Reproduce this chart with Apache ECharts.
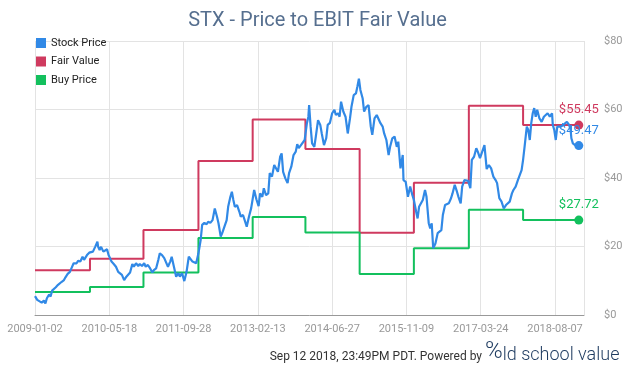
<!DOCTYPE html>
<html>
<head>
<meta charset="utf-8">
<script src="https://cdn.jsdelivr.net/npm/echarts@6/dist/echarts.min.js"></script>
<style>
html,body{margin:0;padding:0;background:#fff;}
#chart{width:635px;height:366px;}
</style>
</head>
<body>
<div id="chart"></div>
<script>
// ---- Data ----
const tickLabels = ['2009-01-02','2010-05-18','2011-09-28','2013-02-13','2014-06-27','2015-11-09','2017-03-24','2018-08-07'];
const yTicks = [0, 20, 40, 60, 80];

// sample index (100 samples per labelled interval) and stock price
const stockIdx = [0,3,5,9,12,14,16,19,21,23,25,28,31,33,36,39,41,44,47,49,52,54,56,58,61,64,66,68,70,73,75,78,81,84,85,87,89,92,94,97,99,
101,103,106,109,112,114,117,120,123,125,128,131,133,136,139,141,144,147,149,152,155,158,160,163,166,168,171,174,176,179,182,184,187,190,193,195,198,
201,204,207,209,212,214,217,220,223,225,228,231,233,236,239,242,243,245,247,250,252,255,258,260,263,265,267,269,272,275,277,280,283,285,288,291,293,295,298,
301,303,306,308,311,314,316,319,322,324,327,330,332,334,337,340,342,345,348,351,353,355,358,360,363,366,368,369,371,373,376,378,381,384,386,389,392,394,397,
400,403,405,408,410,412,415,418,421,424,426,429,432,434,436,438,441,443,446,449,452,454,457,460,462,465,468,470,473,476,478,481,484,487,489,492,495,496,499,
502,505,508,510,513,515,517,519,522,525,527,530,532,534,536,539,542,544,547,549,552,554,557,560,562,565,568,570,573,575,578,580,583,586,588,591,594,596,599,
602,605,608,611,614,617,620,622,625,626,628,631,634,636,639,642,644,647,650,652,655,657,659,661,662,664,666,668,670,672,674,676,678,679,682,685,687,690,693,696,697,699,
701,703,705,708,711,713,716,719,721,722,724,727,730,732];
const stockPrice = [5.5,4.4,4.8,3.6,4.2,3.4,4.9,6.0,5.4,7.1,7.3,8.1,8.8,9.3,9.7,10.2,11.0,12.0,12.6,13.6,15.1,15.6,15.1,15.8,15.6,17.0,16.1,16.6,17.5,18.2,17.8,18.5,19.9,21.4,19.9,19.0,19.9,18.5,19.0,19.2,17.5,
16.6,15.6,14.9,14.1,12.6,12.2,11.7,10.2,11.2,11.4,12.4,14.9,14.1,15.1,14.3,14.9,14.3,15.1,14.1,14.6,13.6,12.4,13.1,13.6,16.1,18.0,17.5,16.6,15.6,14.1,15.6,17.0,14.1,11.2,12.2,11.2,12.2,
9.9,12.6,17.0,16.8,15.6,16.0,15.1,18.0,21.9,26.3,26.9,26.5,27.2,26.9,27.7,31.1,31.6,28.7,26.8,22.9,23.9,25.8,27.7,31.6,34.5,36.0,33.6,31.6,32.1,30.2,28.7,29.2,27.2,25.8,28.7,31.2,31.6,36.5,33.8,
31.8,35.5,34.5,37.0,35.0,35.5,41.4,40.4,43.8,44.3,41.8,46.2,47.2,41.8,39.9,38.5,41.4,43.3,46.7,47.7,49.9,48.7,49.6,49.1,51.1,56.0,57.9,61.3,55.0,50.1,49.1,52.1,56.9,55.5,53.0,49.6,51.6,55.5,56.1,
58.9,59.9,58.4,58.9,57.9,62.3,59.4,57.9,53.0,57.4,60.8,64.2,64.7,66.7,69.0,65.7,63.3,59.4,60.8,61.3,55.0,52.6,57.4,58.4,57.9,56.0,55.0,53.0,51.1,46.7,49.1,51.6,52.1,49.1,50.6,42.8,46.7,39.4,38.9,
34.5,37.5,35.0,33.6,30.2,28.2,31.6,31.2,33.6,36.5,34.5,26.8,25.3,26.8,19.5,20.9,23.9,23.4,24.8,29.2,32.1,31.6,32.6,34.1,35.5,38.0,36.0,34.5,32.6,37.5,39.4,39.6,39.2,37.0,45.3,46.2,48.7,47.7,45.8,
47.7,49.6,42.6,43.8,42.8,40.4,39.4,38.5,34.1,33.6,33.1,31.1,32.1,32.6,33.1,35.5,36.5,37.5,39.4,39.9,42.3,45.3,49.1,53.0,55.0,54.0,51.1,56.0,58.9,60.4,57.9,59.9,60.4,57.4,56.4,57.9,58.4,58.9,57.9,58.9,55.5,54.0,
51.1,55.0,54.5,55.0,55.5,56.0,56.4,55.5,54.0,51.6,50.1,49.6,49.6,49.47];

// step changes of the valuation lines
const stepIdx = [0, 74, 146, 220, 293, 364, 437, 510, 584, 657];
const fairValue = [13.1, 16.4, 24.8, 45.0, 57.1, 48.5, 24.0, 38.6, 61.1, 55.45];
const buyPrice = [6.7, 8.2, 12.4, 22.5, 28.6, 24.1, 12.0, 19.5, 30.7, 27.72];
const endIdx = 732;

// ---- Chart ----
const FONT = 'Roboto';
const C_STOCK = '#3189e6', C_FAIR = '#cf3a5f', C_BUY = '#13c05d';

function stepData(vals) {
  const d = stepIdx.map((x, i) => [x, vals[i]]);
  d.push([endIdx, vals[vals.length - 1]]);
  return d;
}
function endMark(x, v, color) {
  return {
    symbol: 'circle', symbolSize: 9, silent: true,
    itemStyle: { color: color },
    label: { show: true, position: 'top', distance: 4, color: color,
      fontFamily: FONT, fontSize: 13, formatter: '$' + v.toFixed(2) },
    data: [{ coord: [x, v] }]
  };
}

const chart = echarts.init(document.getElementById('chart'), null, { renderer: 'canvas' });
const stockData = stockIdx.map((x, i) => [x, stockPrice[i]]);
chart.setOption({
  animation: false,
  backgroundColor: '#fff',
  title: {
    text: 'STX - Price to EBIT Fair Value', left: 'center', top: 6,
    textStyle: { fontFamily: FONT, fontSize: 20, fontWeight: 'normal', color: '#566f8f' }
  },
  legend: {
    orient: 'vertical', left: 31, top: 32, itemWidth: 10, itemHeight: 10, itemGap: 6.5,
    icon: 'rect', data: ['Stock Price', 'Fair Value', 'Buy Price'],
    textStyle: { fontFamily: FONT, fontSize: 11, color: '#222', lineHeight: 12 }
  },
  grid: { left: 35, right: 51, top: 41, bottom: 51 },
  xAxis: {
    type: 'value', min: 0, max: 739, interval: 100,
    axisLine: { show: true, lineStyle: { color: '#999', width: 1 } },
    axisTick: { show: false },
    axisLabel: { color: '#999', fontFamily: FONT, fontSize: 11, margin: 9, showMaxLabel: false,
      formatter: v => (v % 100 === 0 && tickLabels[v / 100]) ? tickLabels[v / 100] : '' },
    splitLine: { show: true, lineStyle: { color: '#e3e3e3', width: 1 } }
  },
  yAxis: {
    type: 'value', position: 'right', min: yTicks[0], max: yTicks[yTicks.length - 1], interval: 20,
    axisLine: { show: false }, axisTick: { show: false },
    axisLabel: { color: '#999', fontFamily: FONT, fontSize: 11, margin: 20, formatter: v => '$' + v },
    splitLine: { lineStyle: { color: '#e3e3e3', width: 1 } }
  },
  series: [
    { name: 'Fair Value', type: 'line', step: 'end', data: stepData(fairValue), symbol: 'none',
      color: C_FAIR, lineStyle: { width: 2, color: C_FAIR },
      markPoint: endMark(endIdx, fairValue[fairValue.length - 1], C_FAIR) },
    { name: 'Buy Price', type: 'line', step: 'end', data: stepData(buyPrice), symbol: 'none',
      color: C_BUY, lineStyle: { width: 2, color: C_BUY },
      markPoint: endMark(endIdx, buyPrice[buyPrice.length - 1], C_BUY) },
    { name: 'Stock Price', type: 'line', data: stockData, symbol: 'none',
      color: C_STOCK, lineStyle: { width: 2.2, color: C_STOCK },
      markPoint: endMark(stockIdx[stockIdx.length - 1], stockPrice[stockPrice.length - 1], C_STOCK) }
  ],
  graphic: [
    { type: 'text', right: 153, top: 351,
      style: { text: 'Sep 12 2018, 23:49PM PDT. Powered by', fontFamily: FONT, fontSize: 12, fill: '#333' } },
    { type: 'text', left: 485, top: 340,
      style: { text: '{p|%}{t|ld school value}', fill: '#1d3a5f',
        rich: { p: { fontFamily: FONT, fontSize: 24, fontWeight: 300, fill: '#1d3a5f' },
                t: { fontFamily: FONT, fontSize: 18, fontWeight: 300, fill: '#1d3a5f', padding: [6, 0, 0, 0] } } } }
  ]
});
</script>
</body>
</html>
